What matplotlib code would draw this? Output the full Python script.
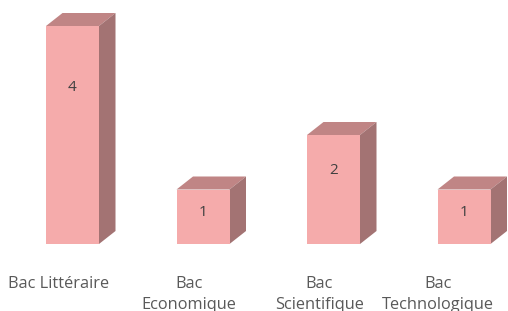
import matplotlib
matplotlib.use("Agg")
import matplotlib.pyplot as plt
from matplotlib.patches import Polygon

categories = ["Bac Littéraire", "Bac\nEconomique", "Bac\nScientifique", "Bac\nTechnologique"]
values = [4, 1, 2, 1]

W, H = 508, 311
fig = plt.figure(figsize=(W / 100, H / 100), dpi=100)
spacing_px = 130.5
unit_px = 54.5
x0_px = 72.5
base_px = 244
ax = fig.add_axes([0, (H - base_px) / H, 1, base_px / H])
ax.set_xlim(-x0_px / spacing_px, (W - x0_px) / spacing_px)
ax.set_ylim(0, base_px / unit_px)
ax.axis("off")

front = "#F5ABAB"
top_c = "#C08585"
side_c = "#A37373"
bw = 53 / spacing_px
dx = 16.5 / spacing_px
dy = 13 / unit_px

for i, v in enumerate(values):
    l, r = i - bw / 2, i + bw / 2
    ax.bar(i, v, width=bw, color=front, edgecolor="none", zorder=3)
    ax.add_patch(Polygon([(l, v), (r, v), (r + dx, v + dy), (l + dx, v + dy)],
                         closed=True, facecolor=top_c, edgecolor="none", zorder=2))
    ax.add_patch(Polygon([(r, 0), (r + dx, dy), (r + dx, v + dy), (r, v)],
                         closed=True, facecolor=side_c, edgecolor="none", zorder=2))
    ax.text(i, 0.77 * v - 0.2, str(v), ha="center", va="center",
            fontsize=11, color="#404040", family="Open Sans", zorder=5)

label_x = [i - 0.11 for i in range(len(categories))]
label_x[-1] = min(label_x[-1], (W - 70 - x0_px) / spacing_px)
for x, lab in zip(label_x, categories):
    ax.text(x, -(276 - base_px) / unit_px, lab, ha="center", va="top",
            fontsize=11.8, color="#595959", family="Open Sans",
            linespacing=1.42, clip_on=False)

fig.savefig("out.png", dpi=100, facecolor="white")
